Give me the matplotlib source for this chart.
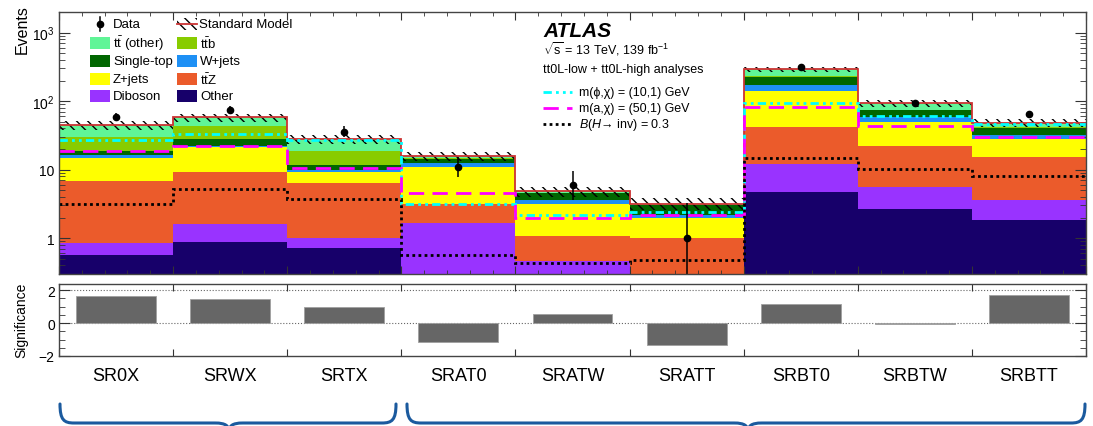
import numpy as np
import matplotlib
matplotlib.use("Agg")
import matplotlib.pyplot as plt
from matplotlib.patches import Rectangle, PathPatch
from matplotlib.path import Path
from matplotlib.lines import Line2D
from matplotlib.ticker import (FixedLocator, MultipleLocator, LogLocator,
                               NullFormatter, FixedFormatter)

# ---------------- data ----------------
regions = ["SR0X", "SRWX", "SRTX", "SRAT0", "SRATW", "SRATT", "SRBT0", "SRBTW", "SRBTT"]

# stacked backgrounds (bottom -> top)
bkg_other     = [0.56, 0.87, 0.72, 0.05, 0.05, 0.02, 4.75, 2.63, 1.84]
bkg_diboson   = [0.29, 0.73, 0.30, 1.60, 0.41, 0.05, 7.45, 2.97, 1.76]
bkg_ttz       = [5.95, 7.70, 5.30, 1.45, 0.60, 0.95, 29.4, 16.9, 11.7]
bkg_zjets     = [8.00, 12.0, 3.00, 7.80, 2.14, 0.98, 99.4, 27.5, 12.7]
bkg_wjets     = [1.70, 1.20, 0.50, 1.70, 0.40, 0.20, 30.0, 8.00, 4.00]
bkg_singletop = [2.50, 5.40, 1.70, 1.80, 0.90, 0.80, 57.0, 16.0, 8.60]
bkg_ttb       = [11.0, 15.1, 7.50, 0.40, 0.05, 0.05, 4.00, 1.00, 1.00]
bkg_ttother   = [15.0, 15.0, 9.00, 1.00, 0.30, 0.15, 59.0, 18.0, 6.40]
sm_unc        = [7.0, 8.0, 4.0, 2.5, 0.8, 0.6, 22.0, 10.0, 6.0]

data        = [59, 74, 36, 11, 6, 1, 318, 93, 64]
data_err_lo = [7.7, 8.6, 6.0, 3.3, 2.4, 0.83, 17.8, 9.6, 8.0]
data_err_hi = [8.8, 9.6, 7.0, 4.4, 3.6, 2.3, 18.9, 10.7, 9.0]

sig_phi = [27, 33, 27, 3.2, 2.2, 2.4, 93.5, 60.7, 47]
sig_a   = [18.7, 22.5, 10.6, 4.6, 1.95, 2.15, 82.7, 43.8, 29.8]
sig_h   = [3.2, 5.2, 3.7, 0.57, 0.43, 0.475, 14.8, 10.1, 8.1]

significance = [1.65, 1.48, 0.95, -1.12, 0.53, -1.33, 1.14, -0.04, 1.73]

bkg_names = ["Other", "Diboson", r"$\mathrm{t\bar{t}Z}$", "Z+jets", "W+jets",
             "Single-top", r"$\mathrm{t\bar{t}b}$", r"$\mathrm{t\bar{t}}$ (other)"]
bkg_colors = ["#17006A", "#9933FF", "#EB5B2B", "#FFFF00", "#1E90F5",
              "#006600", "#88CC00", "#60F597"]

# ---------------- style ----------------
plt.rcParams['font.family'] = ['Liberation Sans', 'DejaVu Sans']
plt.rcParams['mathtext.fontset'] = 'custom'
plt.rcParams['mathtext.rm'] = 'Liberation Sans'
plt.rcParams['mathtext.it'] = 'Liberation Sans:italic'
plt.rcParams['mathtext.bf'] = 'Liberation Sans:bold'
plt.rcParams['hatch.linewidth'] = 1.0

W, H = 1093, 427
fig = plt.figure(figsize=(W / 100, H / 100), dpi=100)


def fx(x):
    return x / W


def fy(y):
    return 1 - y / H


AX_L, AX_R = 59, 1086
ax = fig.add_axes([fx(AX_L), fy(275), (AX_R - AX_L) / W, (275 - 13) / H])
axr = fig.add_axes([fx(AX_L), fy(357), (AX_R - AX_L) / W, (357 - 284.5) / H])

n = len(regions)
edges = np.arange(n + 1)
centers = edges[:-1] + 0.5

components = [bkg_other, bkg_diboson, bkg_ttz, bkg_zjets, bkg_wjets,
              bkg_singletop, bkg_ttb, bkg_ttother]
base = np.full(n, 1e-3)
for vals, c in zip(components, bkg_colors):
    top = base + np.array(vals)
    ax.stairs(top, edges, baseline=base, fill=True, color=c, lw=0, zorder=1)
    base = top
total = base

unc = np.array(sm_unc)
ax.bar(centers, 2 * unc, bottom=total - unc, width=1.0, fill=False,
       hatch='\\\\\\', edgecolor='black', lw=0, zorder=2)
ax.stairs(total, edges, baseline=None, color='#CC3333', lw=1.3, zorder=3)

ls_phi = (0, (3, 1.5, 1, 1.5, 1, 1.5))
ls_a = (0, (5.5, 3))
ls_h = (0, (1, 1.2))
ax.stairs(sig_phi, edges, baseline=None, color='#00FFFF', lw=2, ls=ls_phi, zorder=4)
ax.stairs(sig_a, edges, baseline=None, color='#FF00FF', lw=2, ls=ls_a, zorder=4)
ax.stairs(sig_h, edges, baseline=None, color='black', lw=2, ls=ls_h, zorder=4)

ax.errorbar(centers, data, yerr=[data_err_lo, data_err_hi], fmt='o', color='black',
            ms=4.5, elinewidth=1.1, capsize=0, zorder=6)

ax.set_xlim(0, n)
ax.set_yscale('log')
ax.set_ylim(0.3, 2000)
ax.yaxis.set_major_locator(FixedLocator([1, 10, 100, 1000]))
ax.yaxis.set_major_formatter(FixedFormatter(['1', '10', '$10^{2}$', '$10^{3}$']))
ax.yaxis.set_minor_locator(LogLocator(base=10, subs=np.arange(2, 10) * 1.0, numticks=30))
ax.yaxis.set_minor_formatter(NullFormatter())
ax.xaxis.set_major_locator(MultipleLocator(1))
ax.xaxis.set_minor_locator(MultipleLocator(0.2))
ax.tick_params(axis='both', which='both', direction='in', top=True, right=True,
               labelbottom=False, color='#333333')
ax.tick_params(axis='y', which='major', length=8, labelsize=10, pad=3)
ax.tick_params(axis='y', which='minor', length=4)
ax.tick_params(axis='x', which='major', length=6)
ax.tick_params(axis='x', which='minor', length=3)
for s in ax.spines.values():
    s.set_color('#444444')
    s.set_linewidth(1.0)
    s.set_zorder(10)

# ---------------- significance panel ----------------
axr.bar(centers, significance, width=0.7, color='#666666', edgecolor='#A0A0A0', lw=0.6)
axr.axhline(0, color='#666666', ls=':', lw=0.8, zorder=0)
axr.axhline(2, color='#666666', ls=':', lw=0.8, zorder=0)
axr.set_xlim(0, n)
axr.set_ylim(-2, 2.4)
axr.set_xticks(edges)
axr.set_xticklabels([])
axr.set_xticks(centers, minor=True)
axr.set_xticklabels(regions, minor=True, fontsize=13)
axr.tick_params(axis='x', which='minor', length=0, pad=8)
axr.tick_params(axis='x', which='major', direction='in', top=True, length=5, color='#333333')
axr.yaxis.set_major_locator(FixedLocator([-2, 0, 2]))
axr.yaxis.set_major_formatter(FixedFormatter(['\u22122', '0', '2']))
axr.yaxis.set_minor_locator(MultipleLocator(0.5))
axr.tick_params(axis='y', which='both', direction='in', right=True, color='#333333')
axr.tick_params(axis='y', which='major', length=8, labelsize=10, pad=3)
axr.tick_params(axis='y', which='minor', length=4)
for s in axr.spines.values():
    s.set_color('#444444')
    s.set_linewidth(1.0)

fig.text(fx(22), fy(5), 'Events', rotation=90, ha='center', va='top', fontsize=11.5)
fig.text(fx(21), fy(320), 'Significance', rotation=90, ha='center', va='center', fontsize=10)

# ---------------- legend (manual) ----------------
rows_y = [25, 44, 62, 80, 97]
col_x = [90, 177]
bw, bh = 20, 12
leg_fs = 9.5

# Data entry
fig.add_artist(Line2D([fx(100)], [fy(25)], marker='o', ms=4.5, color='black',
                      transform=fig.transFigure))
fig.add_artist(Line2D([fx(100), fx(100)], [fy(18), fy(32)], lw=1.1, color='black',
                      transform=fig.transFigure))
fig.text(fx(113), fy(25), 'Data', va='center', fontsize=leg_fs)
# Standard Model entry
fig.add_artist(Rectangle((fx(177), fy(25 + bh / 2)), bw / W, bh / H, fill=False,
                         hatch='\\\\\\', edgecolor='black', lw=0, transform=fig.transFigure))
fig.add_artist(Line2D([fx(177), fx(197)], [fy(25), fy(25)], lw=1.3, color='#CC3333',
                      transform=fig.transFigure))
fig.text(fx(199), fy(25), 'Standard Model', va='center', fontsize=leg_fs)

leg_order = [(7, 0, 1), (6, 1, 1), (5, 0, 2), (4, 1, 2), (3, 0, 3), (2, 1, 3),
             (1, 0, 4), (0, 1, 4)]
for idx, col, row in leg_order:
    x0 = col_x[col]
    yc = rows_y[row]
    fig.add_artist(Rectangle((fx(x0), fy(yc + bh / 2)), bw / W, bh / H,
                             facecolor=bkg_colors[idx], edgecolor='none',
                             transform=fig.transFigure))
    fig.text(fx(x0 + 23), fy(yc), bkg_names[idx], va='center', fontsize=leg_fs)

# ---------------- ATLAS label ----------------
fig.text(fx(543), fy(37), 'ATLAS', fontsize=15, fontweight='bold', fontstyle='italic',
         va='baseline')
fig.text(fx(543), fy(55), r'$\sqrt{\mathrm{s}}$ = 13 TeV, 139 fb$^{-1}$', fontsize=9,
         va='baseline')
fig.text(fx(543), fy(73), 'tt0L-low + tt0L-high analyses', fontsize=9, va='baseline')

sig_leg = [
    ('#00FFFF', ls_phi, 'm(\u03d5,\u03c7) = (10,1) GeV', 93),
    ('#FF00FF', ls_a, 'm(a,\u03c7) = (50,1) GeV', 109),
    ('black', ls_h, r'$\mathit{B}(\mathit{H}$' + '\u2192 inv) = 0.3', 125),
]
for c, ls, lab, yc in sig_leg:
    fig.add_artist(Line2D([fx(543), fx(572)], [fy(yc), fy(yc)], color=c, lw=2, ls=ls,
                          transform=fig.transFigure))
    fig.text(fx(579), fy(yc), lab, va='center', fontsize=9)

# ---------------- braces ----------------


def brace(xl, xr, xm, ytop=405, ymid=424, ytip=433, r=14):
    pts = [(xl, ytop), (xl, ymid - 3), (xl + 4, ymid), (xl + r, ymid),
           (xm - r, ymid), (xm - 3, ymid), (xm, ymid + 3), (xm, ytip),
           (xm, ymid + 3), (xm + 3, ymid), (xm + r, ymid),
           (xr - r, ymid), (xr - 4, ymid), (xr, ymid - 3), (xr, ytop)]
    codes = [Path.MOVETO, Path.CURVE4, Path.CURVE4, Path.CURVE4,
             Path.LINETO, Path.CURVE4, Path.CURVE4, Path.CURVE4,
             Path.CURVE4, Path.CURVE4, Path.CURVE4,
             Path.LINETO, Path.CURVE4, Path.CURVE4, Path.CURVE4]
    verts = [(fx(px), fy(py)) for px, py in pts]
    patch = PathPatch(Path(verts, codes), transform=fig.transFigure, fill=False,
                      edgecolor='#1B5A9E', lw=2.2, capstyle='round', joinstyle='round')
    fig.add_artist(patch)


brace(60, 396, 229)
brace(407, 1085, 748)

fig.savefig('out.png', dpi=100)
